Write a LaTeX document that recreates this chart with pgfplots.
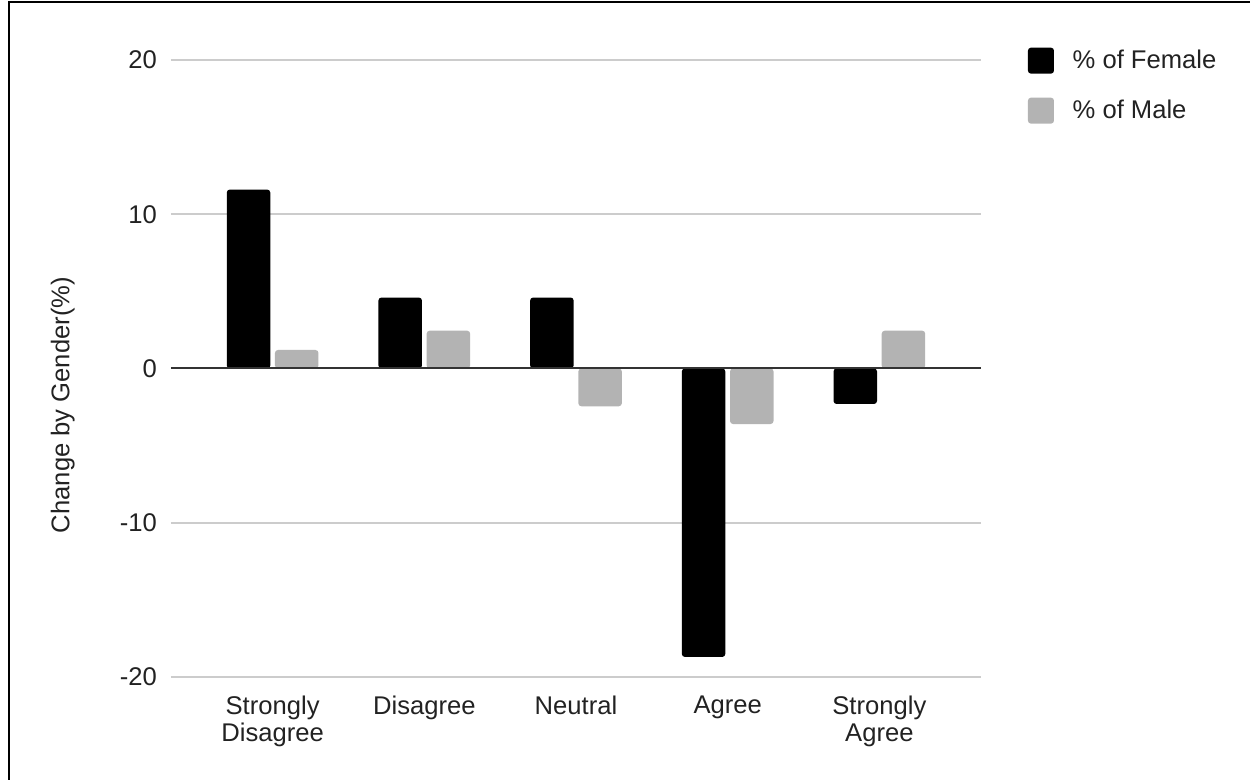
\documentclass[border=0pt]{standalone}
\usepackage{fontspec}
\setmainfont{Liberation Sans}
\usepackage{pgfplots}
\pgfplotsset{compat=1.18}

\definecolor{labelgray}{HTML}{222222}
\definecolor{gridgray}{HTML}{CCCCCC}
\definecolor{zerogray}{HTML}{333333}
\definecolor{malegray}{HTML}{B3B3B3}

\begin{document}
\begin{tikzpicture}[x=1pt,y=1pt]
\useasboundingbox (0,0) rectangle (625,390);
% frame along the top and left edges
\draw[line width=1pt,black] (4.5,0) -- (4.5,389) -- (625,389);

\begin{axis}[
  at={(85.5pt,51.5pt)}, anchor=south west,
  width=405pt, height=308.5pt, scale only axis,
  xmin=-0.67, xmax=4.67, ymin=-20, ymax=20,
  ybar=2.35pt, bar width=21.75pt,
  xtick={0,1,2,3,4},
  xticklabels={{Strongly\\Disagree},Disagree,Neutral,Agree,{Strongly\\Agree}},
  ytick={-20,-10,0,10,20},
  ymajorgrids,
  grid style={gridgray,line width=0.85pt},
  axis line style={draw=none},
  major tick length=0pt,
  /pgf/number format/assume math mode=true,
  tick label style={font=\fontsize{12.8}{13.4}\selectfont, text=labelgray},
  xticklabel style={anchor=north, inner sep=0pt, yshift=-9.2pt, align=center},
  yticklabel style={anchor=east, inner sep=0pt, xshift=-6.85pt},
  ylabel={Change by Gender(\%)},
  ylabel style={at={(rel axis cs:-0.1256,0.4408)}, anchor=base, rotate=0,
    inner sep=0pt, font=\fontsize{12.8}{13.4}\selectfont, text=labelgray},
  legend cell align=left,
  legend image code/.code={\fill[#1] (0pt,-6.5pt) rectangle (13pt,6.5pt);},
  legend style={at={(rel axis cs:1.058,1.0200)}, anchor=north west,
    draw=none, fill=none, inner sep=0pt, outer sep=0pt, row sep=12pt,
    nodes={inner sep=0pt, outer sep=0pt, text=labelgray,
      font=\fontsize{12.8}{13.4}\selectfont},
    /tikz/every odd column/.append style={column sep=9.35pt}},
]
\addplot[fill=black, draw=none, rounded corners=1.5pt] coordinates {
  (0,11.6) (1,4.6) (2,4.6) (3,-18.7) (4,-2.3)};
\addlegendentry{\% of Female}
\addplot[fill=malegray, draw=none, rounded corners=1.5pt] coordinates {
  (0,1.2) (1,2.45) (2,-2.45) (3,-3.6) (4,2.45)};
\addlegendentry{\% of Male}
% baseline at zero, over the bars
\draw[zerogray, line width=1pt] (axis cs:-0.67,0) -- (axis cs:4.67,0);
\end{axis}
\end{tikzpicture}
\end{document}
